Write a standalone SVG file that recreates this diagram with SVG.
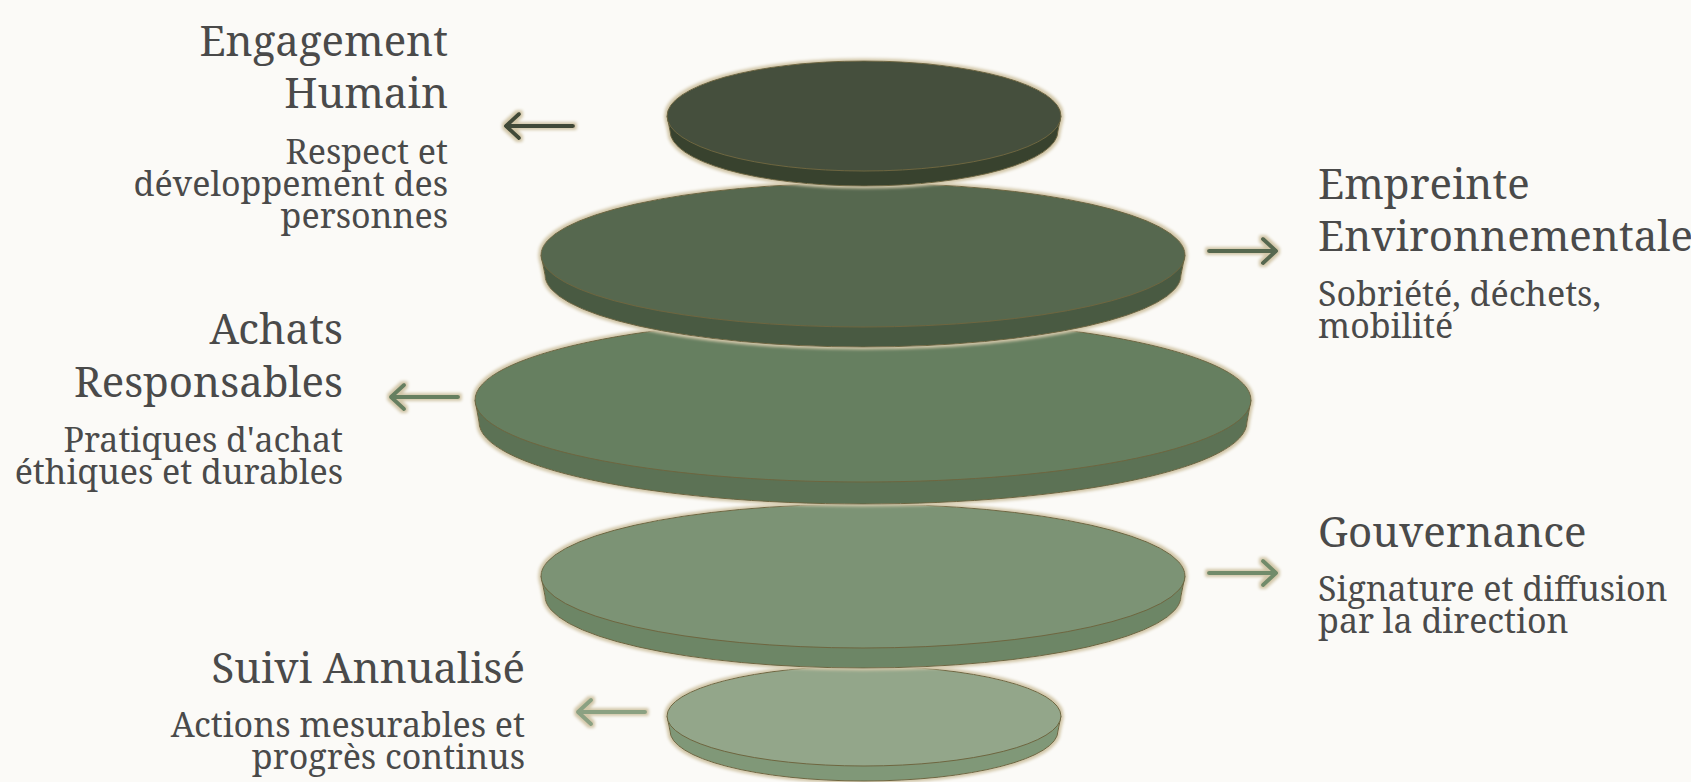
<svg xmlns="http://www.w3.org/2000/svg" width="1691" height="782" viewBox="0 0 1691 782">
  <style>
    .title { font-family: "Noto Serif", "DejaVu Serif", serif; font-size: 42px; fill: #4a4a4a; }
    .sub { font-family: "Noto Serif", "DejaVu Serif", serif; font-size: 34px; fill: #4a4a4a; }
    .rt { text-anchor: end; }
    .edge { stroke: #6e6640; stroke-width: 1; }
    .arrow { fill: none; stroke-width: 4; stroke-linecap: round; stroke-linejoin: round; }
  </style>
  <defs>
    <filter id="glow" x="-10%" y="-30%" width="120%" height="160%">
      <feMorphology in="SourceAlpha" operator="dilate" radius="1.5" result="d"/>
      <feGaussianBlur in="d" stdDeviation="1.4" result="b"/>
      <feFlood flood-color="#d2c7a9"/>
      <feComposite in2="b" operator="in" result="g"/>
      <feMerge><feMergeNode in="g"/><feMergeNode in="SourceGraphic"/></feMerge>
    </filter>
  </defs>
  <rect width="1691" height="782" fill="#fbfaf7"/>

  <g id="disc5" filter="url(#glow)">
    <path class="edge" d="M667,716 L670,731 A194,50 0 0 0 1058,731 L1061,716 Z" fill="#809878"/>
    <ellipse class="edge" cx="864" cy="716" rx="197" ry="50" fill="#93a68a"/>
  </g>
  <g id="disc4" filter="url(#glow)">
    <path class="edge" d="M541,576 L545,596 A318,72 0 0 0 1181,596 L1185,576 Z" fill="#6d8666"/>
    <ellipse class="edge" cx="863" cy="576" rx="322" ry="72" fill="#7b9374"/>
  </g>
  <g id="disc3" filter="url(#glow)">
    <path class="edge" d="M475,400 L479,422 A384,82 0 0 0 1247,422 L1251,400 Z" fill="#5b7254"/>
    <ellipse class="edge" cx="863" cy="400" rx="388" ry="82" fill="#667f60"/>
  </g>
  <g id="disc2" filter="url(#glow)">
    <path class="edge" d="M541,255 L545,275 A318,72 0 0 0 1181,275 L1185,255 Z" fill="#4a5a43"/>
    <ellipse class="edge" cx="863" cy="255" rx="322" ry="72" fill="#56684f"/>
  </g>
  <g id="disc1" filter="url(#glow)">
    <path class="edge" d="M667,116 L670,131 A194,55 0 0 0 1058,131 L1061,116 Z" fill="#38432f"/>
    <ellipse class="edge" cx="864" cy="116" rx="197" ry="55" fill="#454f3d"/>
  </g>

  <g id="connectors" filter="url(#glow)">
    <path class="arrow" stroke="#3f4a37" d="M573,126 L506,126 M519,114 L506,126 L519,138"/>
    <path class="arrow" stroke="#56684f" d="M1209,251 L1276,251 M1263,239 L1276,251 L1263,263"/>
    <path class="arrow" stroke="#667f60" d="M458,397 L391,397 M404,385 L391,397 L404,409"/>
    <path class="arrow" stroke="#718b6a" d="M1209,573 L1276,573 M1263,561 L1276,573 L1263,585"/>
    <path class="arrow" stroke="#8ba182" d="M645,712 L578,712 M591,700 L578,712 L591,724"/>
  </g>

  <g id="label-engagement">
    <text class="title rt" x="448" y="56">Engagement</text>
    <text class="title rt" x="448" y="108">Humain</text>
    <text class="sub rt" x="448" y="164">Respect et</text>
    <text class="sub rt" x="448" y="196">développement des</text>
    <text class="sub rt" x="448" y="228">personnes</text>
  </g>
  <g id="label-empreinte">
    <text class="title" x="1318" y="199">Empreinte</text>
    <text class="title" x="1318" y="251">Environnementale</text>
    <text class="sub" x="1318" y="306">Sobriété, déchets,</text>
    <text class="sub" x="1318" y="338">mobilité</text>
  </g>
  <g id="label-achats">
    <text class="title rt" x="343" y="344">Achats</text>
    <text class="title rt" x="343" y="397">Responsables</text>
    <text class="sub rt" x="343" y="452">Pratiques d'achat</text>
    <text class="sub rt" x="343" y="484">éthiques et durables</text>
  </g>
  <g id="label-gouvernance">
    <text class="title" x="1318" y="547">Gouvernance</text>
    <text class="sub" x="1318" y="601">Signature et diffusion</text>
    <text class="sub" x="1318" y="633">par la direction</text>
  </g>
  <g id="label-suivi">
    <text class="title rt" x="525" y="683">Suivi Annualisé</text>
    <text class="sub rt" x="525" y="737">Actions mesurables et</text>
    <text class="sub rt" x="525" y="769">progrès continus</text>
  </g>
</svg>
